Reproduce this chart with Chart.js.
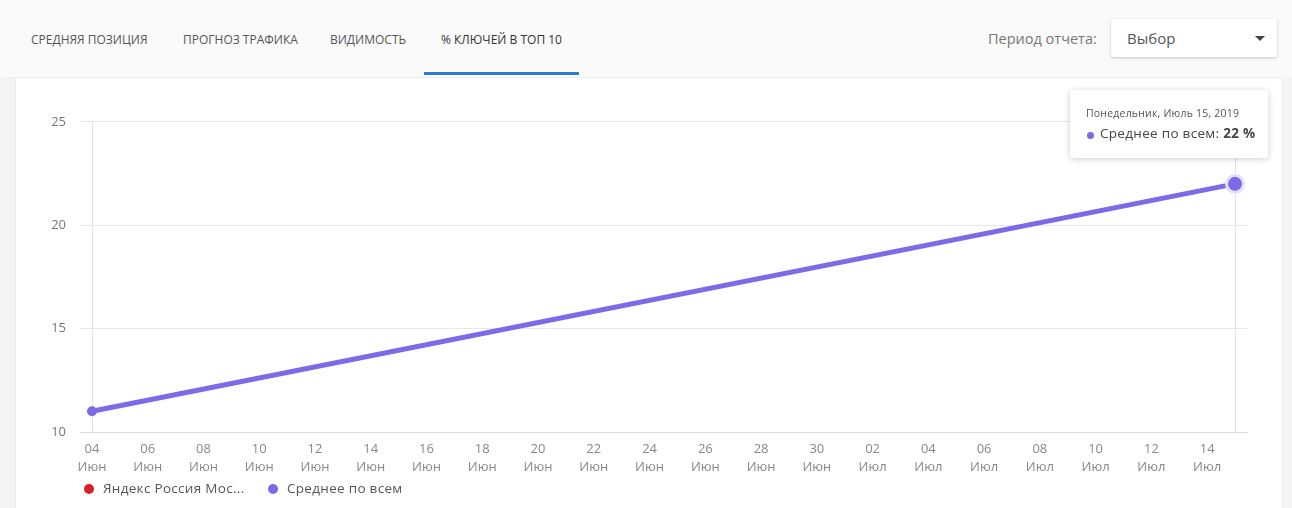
<!DOCTYPE html>
<html>
<head>
<meta charset="utf-8">
<script src="https://cdn.jsdelivr.net/npm/chart.js@4.4.1/dist/chart.umd.min.js"></script>
<style>
  body { margin: 0; width: 1292px; height: 508px; background: #f4f4f4; font-family: "Open Sans", sans-serif; overflow: hidden; position: relative; }
  .top { position: absolute; left: 0; top: 0; width: 1292px; height: 77px; background: #fafafa; }
  .tab { position: absolute; top: 31px; font-size: 12px; color: #555; letter-spacing: 0px; }
  .tab.active { color: #333; }
  .underline { position: absolute; left: 424px; top: 72px; width: 155px; height: 3px; background: #2a7dd1; }
  .period { position: absolute; left: 988px; top: 29px; font-size: 14.5px; color: #777; }
  .select { position: absolute; left: 1111px; top: 19px; width: 166px; height: 38px; background: #fff; border-radius: 2px; box-shadow: 0 1px 3px rgba(0,0,0,0.22); }
  .select span { position: absolute; left: 16px; top: 9px; font-size: 15px; color: #555; }
  .caret { position: absolute; right: 12px; top: 17px; width: 0; height: 0; border-left: 5px solid transparent; border-right: 5px solid transparent; border-top: 5px solid #444; }
  .card { position: absolute; left: 15px; top: 77px; width: 1265px; height: 431px; background: #fff; border-left: 1px solid #ececec; border-top: 1px solid #eee; }
  #wrap { position: absolute; left: 15px; top: 100px; width: 1265px; height: 380px; }
  .legend { position: absolute; top: 480px; left: 84px; font-size: 13.5px; color: #555; }
  .legend .item { position: absolute; top: 0; white-space: nowrap; }
  .legend .dot { position: absolute; top: 4px; width: 10px; height: 10px; border-radius: 50%; }
  .legend .txt { position: absolute; left: 19px; top: -1px; letter-spacing: 0.3px; }
  #tip { position: absolute; display: none; background: #fff; border-radius: 3px; box-shadow: 0 1px 6px rgba(0,0,0,0.2); width: 198px; height: 68px; }
  #tip .t { position: absolute; left: 16px; top: 16px; font-size: 10.5px; color: #555; letter-spacing: 0.2px; }
  #tip .b { position: absolute; left: 30px; top: 34px; font-size: 13.5px; color: #444; white-space: nowrap; letter-spacing: 0.3px; }
  #tip .d { position: absolute; left: 17px; top: 42px; width: 7px; height: 7px; border-radius: 50%; }
</style>
</head>
<body>
<div class="top"></div>
<div class="tab" style="left:31px">СРЕДНЯЯ ПОЗИЦИЯ</div>
<div class="tab" style="left:183px">ПРОГНОЗ ТРАФИКА</div>
<div class="tab" style="left:330px">ВИДИМОСТЬ</div>
<div class="tab active" style="left:441px">% КЛЮЧЕЙ В ТОП 10</div>
<div class="underline"></div>
<div class="period">Период отчета:</div>
<div class="select"><span>Выбор</span><div class="caret"></div></div>
<div class="card"></div>
<div id="wrap"><canvas id="myChart"></canvas></div>
<div class="legend" id="legend"></div>
<div id="tip"><div class="t"></div><div class="d"></div><div class="b"></div></div>

<script>
// data
const seriesNames = ["Яндекс Россия Мос...", "Среднее по всем"];
const seriesColors = ["#d71f26", "#7e69e6"];
const dates = ["2019-06-04", "2019-07-15"];
const avgValues = [11, 22];
const yandexValues = [];
const tickLabels = [
	["04", "Июн"], ["06", "Июн"], ["08", "Июн"], ["10", "Июн"], ["12", "Июн"], ["14", "Июн"],
	["16", "Июн"], ["18", "Июн"], ["20", "Июн"], ["22", "Июн"], ["24", "Июн"], ["26", "Июн"],
	["28", "Июн"], ["30", "Июн"], ["02", "Июл"], ["04", "Июл"], ["06", "Июл"], ["08", "Июл"],
	["10", "Июл"], ["12", "Июл"], ["14", "Июл"]
];
const weekDays = ["Воскресенье", "Понедельник", "Вторник", "Среда", "Четверг", "Пятница", "Суббота"];
const monthNames = ["Январь", "Февраль", "Март", "Апрель", "Май", "Июнь", "Июль", "Август", "Сентябрь", "Октябрь", "Ноябрь", "Декабрь"];

const DAY = 86400000;
const start = Date.parse(dates[0]);
const dayOf = (d) => Math.round((Date.parse(d) - start) / DAY);
const avgPoints = dates.map((d, i) => ({ x: dayOf(d), y: avgValues[i] }));
const lastDay = dayOf(dates[dates.length - 1]);

// legend
const legend = document.getElementById("legend");
const legendX = [0, 184];
seriesNames.forEach((name, i) => {
	const item = document.createElement("div");
	item.className = "item";
	item.style.left = legendX[i] + "px";
	item.innerHTML = '<div class="dot" style="background:' + seriesColors[i] + '"></div><div class="txt">' + name + "</div>";
	legend.appendChild(item);
});

// vertical lines at first point and hovered point
const vLines = {
	id: "vLines",
	beforeDatasetsDraw(chart) {
		const { ctx, chartArea, scales } = chart;
		const xs = [avgPoints[0].x];
		const act = chart.getActiveElements();
		if (act.length) xs.push(avgPoints[act[0].index].x);
		ctx.save();
		ctx.strokeStyle = "#e2e2e2";
		ctx.lineWidth = 1;
		xs.forEach((v) => {
			const px = Math.round(scales.x.getPixelForValue(v)) + 0.5;
			ctx.beginPath();
			ctx.moveTo(px, chartArea.top);
			ctx.lineTo(px, chartArea.bottom);
			ctx.stroke();
		});
		ctx.restore();
	},
};

const tipEl = document.getElementById("tip");
const externalTip = (context) => {
	const tt = context.tooltip;
	if (tt.opacity === 0 || !tt.dataPoints || !tt.dataPoints.length) {
		tipEl.style.display = "none";
		return;
	}
	const dp = tt.dataPoints[0];
	const d = new Date(dates[dp.dataIndex] + "T12:00:00");
	tipEl.querySelector(".t").textContent = weekDays[d.getDay()] + ", " + monthNames[d.getMonth()] + " " + d.getDate() + ", " + d.getFullYear();
	tipEl.querySelector(".d").style.background = seriesColors[dp.datasetIndex];
	tipEl.querySelector(".b").innerHTML = seriesNames[dp.datasetIndex] + ": <b>" + dp.parsed.y + " %</b>";
	const wrap = document.getElementById("wrap");
	tipEl.style.display = "block";
	tipEl.style.left = wrap.offsetLeft + tt.caretX - 165 + "px";
	tipEl.style.top = wrap.offsetTop + tt.caretY - 94 + "px";
};

const chart = new Chart(document.getElementById("myChart"), {
	type: "line",
	data: {
		datasets: [
			{
				label: seriesNames[0],
				data: yandexValues,
				borderColor: seriesColors[0],
				backgroundColor: seriesColors[0],
			},
			{
				label: seriesNames[1],
				data: avgPoints,
				borderColor: seriesColors[1],
				backgroundColor: seriesColors[1],
				borderWidth: 5,
				pointRadius: 5,
				pointBorderWidth: 0,
				pointHoverRadius: 8.5,
				pointHoverBorderWidth: 3,
				pointHoverBorderColor: "#e6e1fa",
				pointHoverBackgroundColor: seriesColors[1],
				tension: 0,
			},
		],
	},
	options: {
		responsive: true,
		maintainAspectRatio: false,
		animation: false,
		events: [],
		layout: { padding: { left: 0, top: 21, right: 33, bottom: 0 } },
		plugins: {
			legend: { display: false },
			tooltip: { enabled: false, mode: "nearest", intersect: false, external: externalTip },
		},
		scales: {
			x: {
				type: "linear",
				min: -0.43,
				max: lastDay + 0.43,
				afterBuildTicks: (scale) => {
					scale.ticks = tickLabels.map((_, i) => ({ value: i * 2 }));
				},
				afterFit: (scale) => { scale.height = 48; },
				grid: { display: false, drawTicks: false },
				border: { display: true, color: "#d6dae3", width: 1 },
				ticks: {
					autoSkip: false,
					maxRotation: 0,
					padding: 9,
					color: "#888",
					font: { family: "Open Sans", size: 13, lineHeight: 1.33 },
					callback: (v) => tickLabels[v / 2],
				},
			},
			y: {
				min: 10,
				max: 25,
				afterFit: (scale) => { scale.width = 65; },
				ticks: {
					stepSize: 5,
					padding: 14,
					color: "#777",
					font: { family: "Open Sans", size: 13 },
				},
				grid: { color: "#e8e8e8", drawTicks: false },
				border: { display: false },
			},
		},
	},
	plugins: [vLines],
});

const active = [{ datasetIndex: 1, index: avgPoints.length - 1 }];
chart.setActiveElements(active);
chart.tooltip.setActiveElements(active, { x: 0, y: 0 });
chart.update();
</script>
</body>
</html>
